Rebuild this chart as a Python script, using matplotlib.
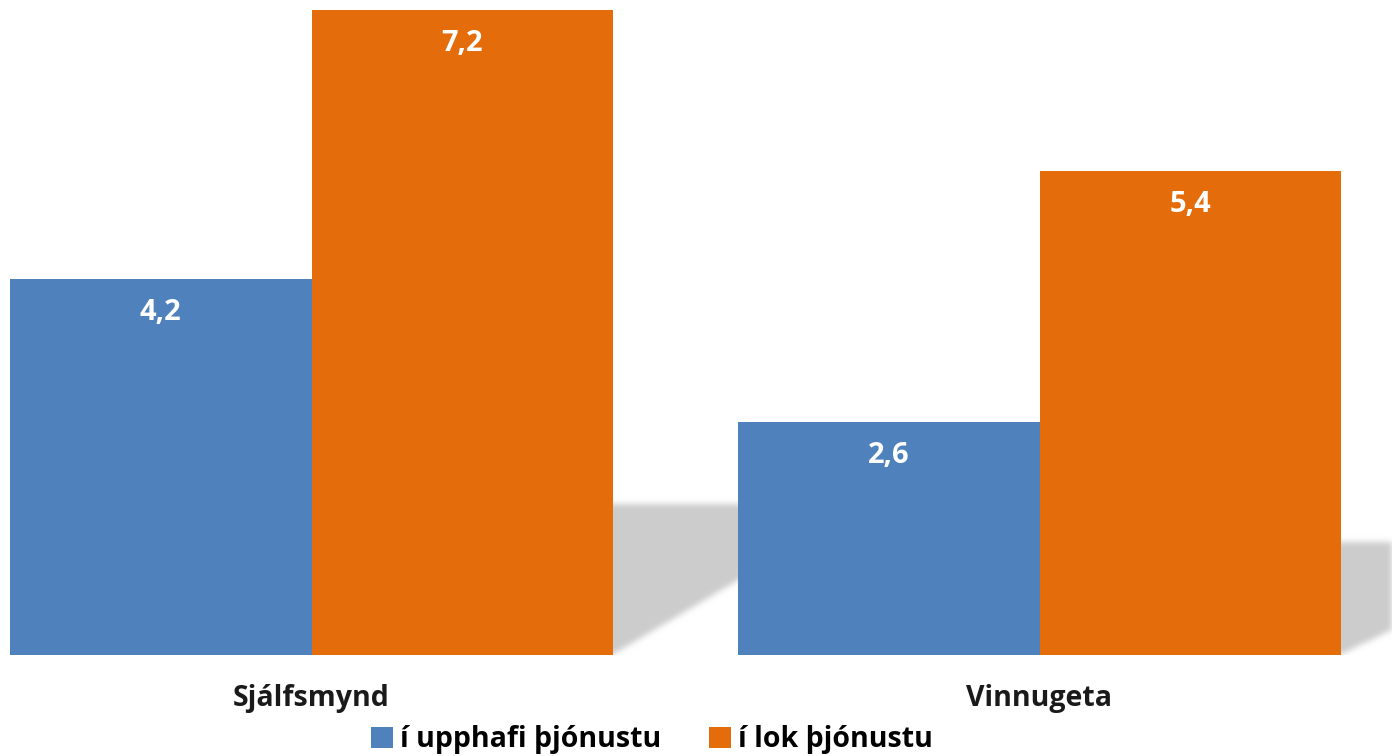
import matplotlib
matplotlib.use("Agg")
import matplotlib.pyplot as plt
from matplotlib.path import Path
import numpy as np

categories = ["Sjálfsmynd", "Vinnugeta"]
series_names = ["í upphafi þjónustu", "í lok þjónustu"]
start_vals = [4.2, 2.6]
end_vals = [7.2, 5.4]
colors = ["#4F81BD", "#E46C0A"]

plt.rcParams['font.family'] = ['Open Sans', 'DejaVu Sans']

fig = plt.figure(figsize=(13.92, 7.56), dpi=100)
ax = fig.add_axes([0, 1 - 655 / 756, 1, 645 / 756])

w = 0.414
x = np.arange(len(categories))
xlim = (-311.5 / 728, (1392 - 311.5) / 728)
ylim = (0, 7.2)
ax.set_xlim(*xlim)
ax.set_ylim(*ylim)

# soft perspective shadows behind the orange bars (blurred raster)
nx, ny = 1392, 645
gx = np.linspace(xlim[0], xlim[1], nx)
gy = np.linspace(ylim[1], ylim[0], ny)
XX, YY = np.meshgrid(gx, gy)
pts = np.column_stack([XX.ravel(), YY.ravel()])
mask = np.zeros(nx * ny)
for xi, v, dpx in zip(x, end_vals, (253, 235)):
    x0, x1 = xi, xi + w
    sh = 0.233 * v
    d = dpx / 728.0
    path = Path([(x0, -0.5), (x1, -0.5), (x1, 0), (x1 + d, sh), (x0, sh), (x0, -0.5)])
    mask = np.maximum(mask, path.contains_points(pts).astype(float))
mask = mask.reshape(ny, nx)
sigma = 3.0
k = np.arange(-10, 11)
kern = np.exp(-k ** 2 / (2 * sigma ** 2))
kern /= kern.sum()
mask = np.apply_along_axis(lambda r: np.convolve(r, kern, mode="same"), 1, mask)
mask = np.apply_along_axis(lambda c: np.convolve(c, kern, mode="same"), 0, mask)
rgba = np.zeros((ny, nx, 4))
rgba[..., :3] = 0.8
rgba[..., 3] = mask
ax.imshow(rgba, extent=(xlim[0], xlim[1], ylim[0], ylim[1]), aspect="auto",
          zorder=1, interpolation="bilinear")
ax.set_xlim(*xlim)
ax.set_ylim(*ylim)

b1 = ax.bar(x - w / 2, start_vals, w, color=colors[0], label=series_names[0], zorder=3)
b2 = ax.bar(x + w / 2, end_vals, w, color=colors[1], label=series_names[1], zorder=3)

for bars, vals in ((b1, start_vals), (b2, end_vals)):
    for r, v in zip(bars, vals):
        ax.annotate(f"{v:.1f}".replace(".", ","),
                    (r.get_x() + r.get_width() / 2, r.get_height()),
                    xytext=(0, -24), textcoords="offset points",
                    ha="center", va="center", color="white",
                    fontsize=21, fontweight="bold", zorder=5)

for xi, c in zip(x, categories):
    ax.annotate(c, (xi, 0), xytext=(0, -31), textcoords="offset points",
                ha="center", va="center", color="#1a1a1a",
                fontsize=20.5, fontweight="bold", annotation_clip=False)

ax.axis("off")

leg = fig.legend(handles=[b1, b2], labels=series_names, loc="center",
                 bbox_to_anchor=(652 / 1392, 1 - 740 / 756), ncol=2,
                 frameon=False, fontsize=20.5, handlelength=0.75, handleheight=0.75,
                 handletextpad=0.25, columnspacing=1.7, borderpad=0)
for t in leg.get_texts():
    t.set_fontweight("bold")
    t.set_color("#000000")

fig.savefig("out.png", dpi=100)
